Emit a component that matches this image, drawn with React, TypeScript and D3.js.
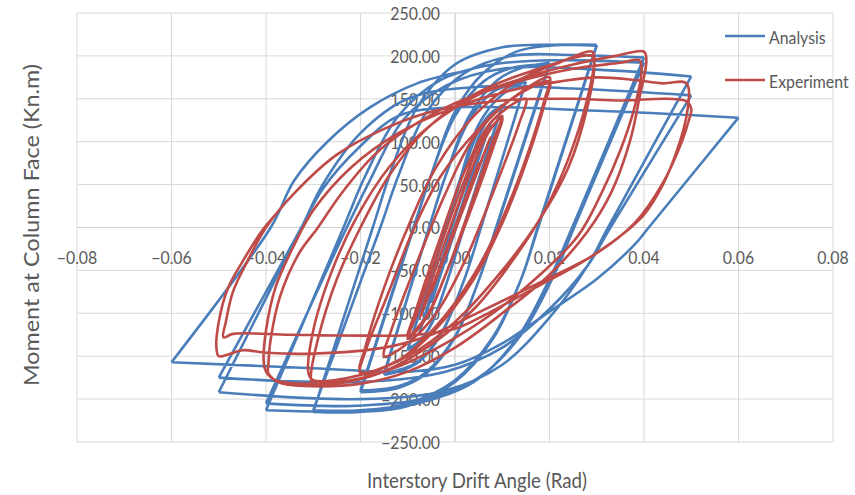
import React from "react";
import * as d3 from "d3";

// tick values
const xTicks = [-0.08, -0.06, -0.04, -0.02, 0, 0.02, 0.04, 0.06, 0.08];
const yTicks = [250, 200, 150, 100, 50, 0, -50, -100, -150, -200, -250];

// Analysis: one array per half cycle (tip to tip)
const analysis: [number, number][][] = [
  [[0, 0], [0.00375, 66]],
  [[0.00375, 66], [-0.00375, -66]],
  [[-0.00375, -66], [0.005, 88]],
  [[0.005, 88], [-0.005, -88]],
  [[-0.005, -88], [0.0075, 122]],
  [[0.0075, 122], [-0.0075, -122]],
  [[-0.0075, -122], [0.002, 48], [0.005, 105], [0.0075, 130], [0.01, 143]],
  [[0.01, 143], [0.0018, 0], [-0.0015, -60], [-0.005, -113], [-0.0075, -133], [-0.01, -143]],
  [[-0.01, -143], [-0.0018, 0], [0.0015, 60], [0.005, 113], [0.0075, 133], [0.01, 142]],
  [[0.01, 142], [0.0019, 0], [-0.0015, -60], [-0.005, -112], [-0.0075, -132], [-0.01, -142]],
  [[-0.01, -142], [-0.002, 0], [0.001, 55], [0.005, 120], [0.01, 155], [0.015, 170]],
  [[0.015, 170], [0.0055, 0], [0.002, -60], [-0.003, -125], [-0.008, -158], [-0.015, -172]],
  [[-0.015, -172], [-0.0055, 0], [-0.002, 60], [0.003, 125], [0.008, 158], [0.015, 170]],
  [[0.015, 170], [0.0055, 0], [0.002, -60], [-0.003, -124], [-0.008, -157], [-0.015, -170]],
  [[-0.015, -170], [-0.0055, 0], [-0.002, 60], [0.003, 130], [0.009, 172], [0.014, 186], [0.02, 192]],
  [[0.02, 192], [0.0087, 0], [0.005, -62], [0.0, -128], [-0.006, -170], [-0.012, -187], [-0.02, -192]],
  [[-0.02, -192], [-0.0087, 0], [-0.005, 62], [0.0, 130], [0.006, 170], [0.012, 186], [0.02, 190]],
  [[0.02, 190], [0.0088, 0], [0.005, -62], [0.0, -127], [-0.006, -168], [-0.012, -185], [-0.02, -190]],
  [[-0.02, -190], [-0.0088, 0], [-0.005, 62], [0.0, 135], [0.006, 180], [0.013, 205], [0.02, 212], [0.03, 213]],
  [[0.03, 213], [0.0175, 0], [0.014, -60], [0.008, -130], [0.0, -180], [-0.01, -208], [-0.02, -215], [-0.03, -215]],
  [[-0.03, -215], [-0.0174, 0], [-0.0136, 65], [-0.008, 140], [0.0, 190], [0.01, 210], [0.02, 213], [0.03, 212]],
  [[0.03, 212], [0.0176, 0], [0.014, -60], [0.008, -128], [0.0, -178], [-0.01, -205], [-0.02, -213], [-0.03, -213]],
  [[-0.03, -213], [-0.0158, 0], [-0.012, 60], [-0.006, 135], [0.002, 180], [0.012, 200], [0.025, 201], [0.04, 198]],
  [[0.04, 198], [0.0248, 0], [0.02, -60], [0.013, -130], [0.004, -180], [-0.008, -205], [-0.022, -214], [-0.04, -213]],
  [[-0.04, -213], [-0.0236, 0], [-0.019, 60], [-0.012, 130], [-0.003, 172], [0.008, 190], [0.022, 195], [0.04, 192]],
  [[0.04, 192], [0.0252, 0], [0.021, -55], [0.014, -125], [0.005, -175], [-0.007, -200], [-0.022, -208], [-0.04, -205]],
  [[-0.04, -205], [-0.0229, 0], [-0.018, 55], [-0.011, 125], [-0.002, 165], [0.01, 185], [0.03, 184], [0.05, 176]],
  [[0.05, 176], [0.0324, 0], [0.028, -45], [0.02, -105], [0.01, -160], [-0.002, -190], [-0.02, -200], [-0.05, -192]],
  [[-0.05, -192], [-0.0325, 0], [-0.028, 50], [-0.02, 110], [-0.01, 150], [0.005, 164], [0.025, 162], [0.05, 154]],
  [[0.05, 154], [0.0329, 0], [0.028, -45], [0.02, -95], [0.01, -140], [-0.002, -168], [-0.02, -180], [-0.05, -175]],
  [[-0.05, -175], [-0.0325, 0], [-0.028, 45], [-0.02, 95], [-0.012, 130], [0.0, 140], [0.03, 136], [0.06, 128]],
  [[0.06, 128], [0.041, 0], [0.038, -20], [0.03, -60], [0.02, -98], [0.01, -135], [0.0, -160], [-0.01, -168], [-0.03, -164], [-0.06, -157]],
  [[-0.06, -157], [-0.039, 0], [-0.034, 55], [-0.027, 100], [-0.018, 140], [-0.008, 168], [0.002, 182]],
];

// Experiment: one continuous record
const experiment: [number, number][] = [
  [0, 0], [0.00375, 55], [-0.00375, -55], [0.005, 75], [-0.005, -75], [0.0075, 105], [-0.0075, -105],
  [0.003, 60], [0.007, 110], [0.01, 130],
  [0.008, 100], [0.003, 20], [-0.002, -55], [-0.006, -105], [-0.01, -130],
  [-0.008, -100], [-0.003, -20], [0.002, 55], [0.006, 105], [0.01, 128],
  [0.0085, 100], [0.003, 15], [-0.002, -55], [-0.006, -103], [-0.01, -127],
  [-0.0085, -100], [-0.003, -10], [0.002, 65], [0.008, 125], [0.015, 150],
  [0.0135, 120], [0.008, 40], [0.002, -40], [-0.004, -100], [-0.01, -135], [-0.015, -150],
  [-0.0135, -120], [-0.008, -40], [-0.002, 40], [0.004, 105], [0.012, 150], [0.02, 175],
  [0.019, 150], [0.015, 80], [0.01, 10], [0.004, -55], [-0.004, -115], [-0.012, -155], [-0.02, -170],
  [-0.019, -145], [-0.014, -75], [-0.009, -5], [-0.003, 60], [0.005, 115], [0.012, 150], [0.02, 170],
  [0.019, 145], [0.015, 75], [0.01, 5], [0.004, -60], [-0.004, -118], [-0.012, -155], [-0.02, -168],
  [-0.019, -140], [-0.015, -70], [-0.01, 0], [-0.004, 70], [0.004, 130], [0.013, 170], [0.022, 192], [0.029, 205],
  [0.0295, 198], [0.028, 150], [0.024, 80], [0.019, 20], [0.012, -40], [0.004, -95], [-0.006, -140], [-0.016, -170], [-0.025, -182], [-0.03, -183],
  [-0.0305, -175], [-0.029, -130], [-0.025, -60], [-0.02, 0], [-0.014, 60], [-0.006, 115], [0.004, 155], [0.015, 180], [0.029, 200],
  [0.0295, 192], [0.028, 140], [0.024, 70], [0.018, 10], [0.01, -50], [0.0, -110], [-0.01, -150], [-0.02, -172], [-0.03, -178],
  [-0.031, -170], [-0.03, -120], [-0.026, -50], [-0.021, 10], [-0.014, 70], [-0.005, 120], [0.005, 155], [0.015, 175], [0.025, 190], [0.034, 200], [0.04, 205],
  [0.0405, 195], [0.039, 150], [0.037, 100], [0.033, 40], [0.028, -5], [0.02, -55], [0.01, -100], [0.0, -140], [-0.01, -168], [-0.02, -182], [-0.03, -185], [-0.037, -181], [-0.0395, -170],
  [-0.0395, -160], [-0.039, -130], [-0.037, -80], [-0.033, -30], [-0.029, 0], [-0.024, 40], [-0.017, 85], [-0.01, 115], [0.0, 145], [0.012, 168], [0.025, 185], [0.035, 192], [0.039, 195],
  [0.0395, 185], [0.038, 140], [0.035, 90], [0.031, 40], [0.026, -10], [0.018, -55], [0.008, -100], [-0.002, -135], [-0.012, -162], [-0.022, -178], [-0.032, -182], [-0.038, -178], [-0.04, -168],
  [-0.0405, -155], [-0.04, -120], [-0.038, -70], [-0.034, -20], [-0.03, 20], [-0.022, 70], [-0.012, 110], [0.0, 140], [0.012, 160], [0.022, 170], [0.03, 175], [0.038, 172], [0.044, 168], [0.048, 170], [0.049, 168],
  [0.0495, 160], [0.049, 130], [0.047, 90], [0.044, 50], [0.04, 15], [0.035, -10], [0.027, -40], [0.017, -70], [0.007, -100], [0.0, -118], [-0.008, -125], [-0.02, -126], [-0.035, -125], [-0.047, -124], [-0.049, -128],
  [-0.0485, -110], [-0.047, -75], [-0.044, -40], [-0.04, 0], [-0.034, 40], [-0.025, 85], [-0.015, 115], [-0.005, 135], [0.01, 148], [0.025, 150], [0.035, 148], [0.045, 150], [0.049, 147], [0.05, 138],
  [0.0495, 125], [0.048, 100], [0.044, 52], [0.038, 5], [0.03, -30], [0.018, -64], [0.005, -99], [-0.005, -125], [-0.015, -140], [-0.03, -147], [-0.04, -146], [-0.045, -143], [-0.048, -148], [-0.05, -150],
  [-0.0505, -140], [-0.05, -110], [-0.048, -70], [-0.045, -40], [-0.041, -5], [-0.038, 15],
];

const BLUE = "#4a7ebb";
const RED = "#be4b48";
const TEXT = "#595959";
const FONT = "Lato, 'Open Sans', sans-serif";

const App = () => {
  const width = 855;
  const height = 495;
  const x = d3.scaleLinear().domain([-0.08, 0.08]).range([77, 833]);
  const y = d3.scaleLinear().domain([-250, 250]).range([442, 13]);
  const fmt = d3.format(".2f");

  const line = d3
    .line<[number, number]>()
    .x((d) => x(d[0]))
    .y((d) => y(d[1]))
    .curve(d3.curveCatmullRom.alpha(0.5));

  const bluePath = analysis.map((seg) => line(seg)).join(" ");
  const redPath = line(experiment) || "";

  const squash = (tx: number, ty: number) => `translate(${tx},${ty}) scale(0.88,1)`;

  return (
    <svg
      width={width}
      height={height}
      style={{ position: "absolute", left: 0, top: 0, background: "#fff" }}
    >
      {/* grid */}
      {xTicks.map((t) => (
        <line key={"gx" + t} x1={x(t)} x2={x(t)} y1={y(250)} y2={y(-250)} stroke="#d9d9d9" strokeWidth={1} />
      ))}
      {yTicks.map((t) => (
        <line key={"gy" + t} x1={x(-0.08)} x2={x(0.08)} y1={y(t)} y2={y(t)} stroke="#d9d9d9" strokeWidth={1} />
      ))}
      <line x1={x(0)} x2={x(0)} y1={y(250)} y2={y(-250)} stroke="#cfcfcf" />
      <line x1={x(-0.08)} x2={x(0.08)} y1={y(0)} y2={y(0)} stroke="#cfcfcf" />

      {/* tick labels */}
      <g fill={TEXT} fontFamily={FONT} fontSize={18}>
        {yTicks.map((t) => (
          <text key={"ly" + t} transform={squash(440, y(t))} textAnchor="end" dominantBaseline="central">
            {fmt(t)}
          </text>
        ))}
        {xTicks.map((t) => (
          <text key={"lx" + t} transform={squash(x(t), 257)} textAnchor="middle" dominantBaseline="central">
            {fmt(t)}
          </text>
        ))}
      </g>

      {/* series */}
      <path d={bluePath} fill="none" stroke={BLUE} strokeWidth={2.6} strokeLinejoin="round" />
      <path d={redPath} fill="none" stroke={RED} strokeWidth={2.6} strokeLinejoin="round" />

      {/* axis titles */}
      <text
        transform="translate(30,225) rotate(-90)"
        textAnchor="middle"
        dominantBaseline="central"
        fontFamily={FONT}
        fontSize={21}
        fill={TEXT}
        textLength={322}
        lengthAdjust="spacingAndGlyphs"
      >
        Moment at Column Face (Kn.m)
      </text>
      <text
        x={477}
        y={479}
        textAnchor="middle"
        dominantBaseline="central"
        fontFamily={FONT}
        fontSize={21}
        fill={TEXT}
        textLength={220}
        lengthAdjust="spacingAndGlyphs"
      >
        Interstory Drift Angle (Rad)
      </text>

      {/* legend */}
      <g fontFamily={FONT} fontSize={18} fill={TEXT}>
        <line x1={725} x2={765} y1={36} y2={36} stroke={BLUE} strokeWidth={2.6} />
        <text transform={squash(769, 37)} dominantBaseline="central">Analysis</text>
        <line x1={725} x2={765} y1={80} y2={80} stroke={RED} strokeWidth={2.6} />
        <text transform={squash(769, 81)} dominantBaseline="central">Experiment</text>
      </g>
    </svg>
  );
};

export default App;
